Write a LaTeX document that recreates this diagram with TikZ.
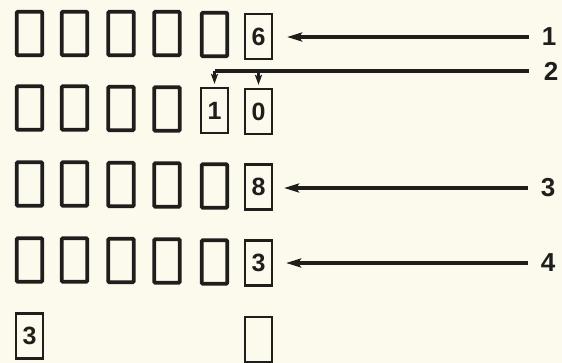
\documentclass[tikz,border=0pt]{standalone}
\usepackage{fontspec}
\setmainfont{Liberation Sans}
\usetikzlibrary{arrows.meta}
\definecolor{paper}{RGB}{252,250,237}
\definecolor{ink}{RGB}{32,30,28}
\begin{document}
\begin{tikzpicture}[x=1pt,y=-1pt,
  bigbox/.style={draw=ink,line width=3.6pt,minimum width=25.5pt,minimum height=43.5pt,inner sep=0pt,rounded corners=1pt},
  numbox/.style={draw=ink,line width=2.2pt,minimum width=27pt,minimum height=45pt,inner sep=0pt,font=\bfseries\fontsize{25}{25}\selectfont,text=ink},
  lab/.style={inner sep=0pt,font=\bfseries\fontsize{26}{26}\selectfont,text=ink},
  arr/.style={draw=ink,line width=3.2pt,-{Stealth[length=15pt,width=9pt,inset=3pt]}},
  drop/.style={draw=ink,line width=2.4pt,-{Stealth[length=10pt,width=7pt,inset=2pt]}},
  plain/.style={draw=ink,line width=3.2pt}]
\fill[paper] (0,0) rectangle (562,363);
\useasboundingbox (0,0) rectangle (562,363);
% row 1
\node[bigbox] (b11) at (29.5,33.5) {};
\node[bigbox] (b12) at (74.5,33.5) {};
\node[bigbox] (b13) at (121,33.5) {};
\node[bigbox] (b14) at (167,33.5) {};
\node[bigbox] (b15) at (214.5,34.5) {};
\node[numbox] (b16) at (258.5,36.5) {6};
% row 2
\node[bigbox] (b21) at (29.5,108) {};
\node[bigbox] (b22) at (74.5,108) {};
\node[bigbox] (b23) at (121,108.5) {};
\node[bigbox] (b24) at (167,109) {};
\node[numbox] (b25) at (214.5,110.5) {1};
\node[numbox] (b26) at (258.5,111.5) {0};
% row 3
\node[bigbox] (b31) at (29.5,184) {};
\node[bigbox] (b32) at (74.5,184) {};
\node[bigbox] (b33) at (121,184.5) {};
\node[bigbox] (b34) at (167,185) {};
\node[bigbox] (b35) at (214.5,186) {};
\node[numbox] (b36) at (258.5,187) {8};
% row 4
\node[bigbox] (b41) at (29.5,260) {};
\node[bigbox] (b42) at (74.5,260) {};
\node[bigbox] (b43) at (121,260.5) {};
\node[bigbox] (b44) at (167,261) {};
\node[bigbox] (b45) at (214.5,262) {};
\node[numbox] (b46) at (258.5,263) {3};
% row 5
\node[numbox] (b51) at (29.5,336) {3};
\node[numbox] (b56) at (258.5,339.5) {};
% labels
\node[lab] (l1) at (549,37) {1};
\node[lab] (l2) at (551,71) {2};
\node[lab] (l3) at (548,188) {3};
\node[lab] (l4) at (548,263) {4};
% arrows
\draw[arr,shorten <=13pt,shorten >=14pt] (l1.west) -- (b16.east |- l1.west);
\draw[plain,shorten <=15pt] (l2.west) -- (b25.north |- l2.west) coordinate (j1);
\coordinate (j2) at (b26.north |- j1);
\draw[drop,shorten >=3pt] (j1) -- (b25.north);
\draw[drop,shorten >=3pt] (j2) -- (b26.north);
\draw[arr,shorten <=13pt,shorten >=11pt] (l3.west) -- (b36.east |- l3.west);
\draw[arr,shorten <=13pt,shorten >=13pt] (l4.west) -- (b46.east |- l4.west);
\end{tikzpicture}
\end{document}
